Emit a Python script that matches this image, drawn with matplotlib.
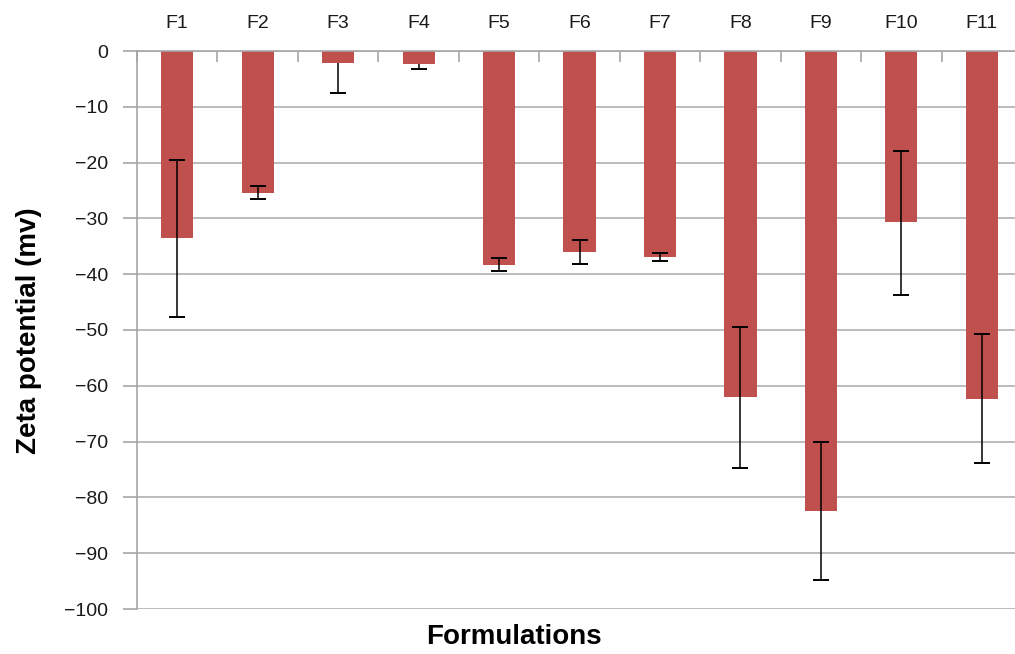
import numpy as np
import matplotlib
matplotlib.use("Agg")
import matplotlib.pyplot as plt

plt.rcParams['font.family'] = ['Liberation Sans', 'DejaVu Sans']

categories = ["F1", "F2", "F3", "F4", "F5", "F6", "F7", "F8", "F9", "F10", "F11"]
zeta = [-33.6, -25.4, -2.1, -2.4, -38.3, -36.0, -36.9, -62.0, -82.4, -30.6, -62.3]
err_minus = [14.0, 1.2, 5.4, 0.8, 1.2, 2.2, 0.75, 12.7, 12.4, 13.1, 11.5]
err_plus = [14.0, 1.2, 0.0, 0.0, 1.2, 2.2, 0.75, 12.6, 12.3, 12.6, 11.5]
yticks = [0, -10, -20, -30, -40, -50, -60, -70, -80, -90, -100]

W, H = 1015, 654
fig = plt.figure(figsize=(W / 100, H / 100), dpi=100)
left, right, top, bottom = 137, 1022, 51, 609
ax = fig.add_axes([left / W, 1 - bottom / H, (right - left) / W, (bottom - top) / H])

x = np.arange(len(categories))
vals = np.array(zeta)
em = np.array(err_minus)
ep = np.array(err_plus)

ax.bar(x, vals, width=0.4, color="#C0504D", zorder=2)
ax.errorbar(x, vals, yerr=[em, ep], fmt="none", ecolor="#000000",
            elinewidth=1.1, capsize=0, zorder=3)
# caps
ax.plot(x, vals - em, linestyle="none", marker="_", markersize=12,
        markeredgewidth=1.4, color="#000000", zorder=3)
mask = ep > 0
ax.plot(x[mask], (vals + ep)[mask], linestyle="none", marker="_", markersize=12,
        markeredgewidth=1.4, color="#000000", zorder=3)

ax.set_xlim(-0.5, len(categories) - 0.5)
ax.set_ylim(-100, 0)
ax.set_yticks(yticks)
ax.set_yticklabels([("\u2212" + str(-v)) if v < 0 else str(v) for v in yticks])
ax.yaxis.grid(True, color="#b0b0b0", linewidth=1.2, zorder=0)
ax.set_axisbelow(True)

ax.xaxis.tick_top()
ax.set_xticks(x)
ax.set_xticklabels(categories)
ax.set_xticks(np.arange(len(categories) + 1) - 0.5, minor=True)
ax.tick_params(axis="x", which="major", length=0, pad=14, labelsize=14, colors="#1a1a1a")
ax.tick_params(axis="x", which="minor", direction="in", length=8, width=1.2, color="#a6a6a6")
ax.tick_params(axis="y", which="major", direction="out", length=10, width=1.2,
               color="#a6a6a6", labelsize=14, labelcolor="#1a1a1a", pad=11)

for s in ["right", "bottom"]:
    ax.spines[s].set_visible(False)
for s in ["left", "top"]:
    ax.spines[s].set_color("#a6a6a6")
    ax.spines[s].set_linewidth(1.2)

fig.text(29 / W, 1 - 331 / H, "Zeta potential (mv)", rotation=90, fontsize=20,
         fontweight="bold", ha="center", va="center", color="#000000")
fig.text(514 / W, 1 - 637 / H, "Formulations", fontsize=20, fontweight="bold",
         ha="center", va="center", color="#000000")

fig.savefig("out.png", dpi=100)
